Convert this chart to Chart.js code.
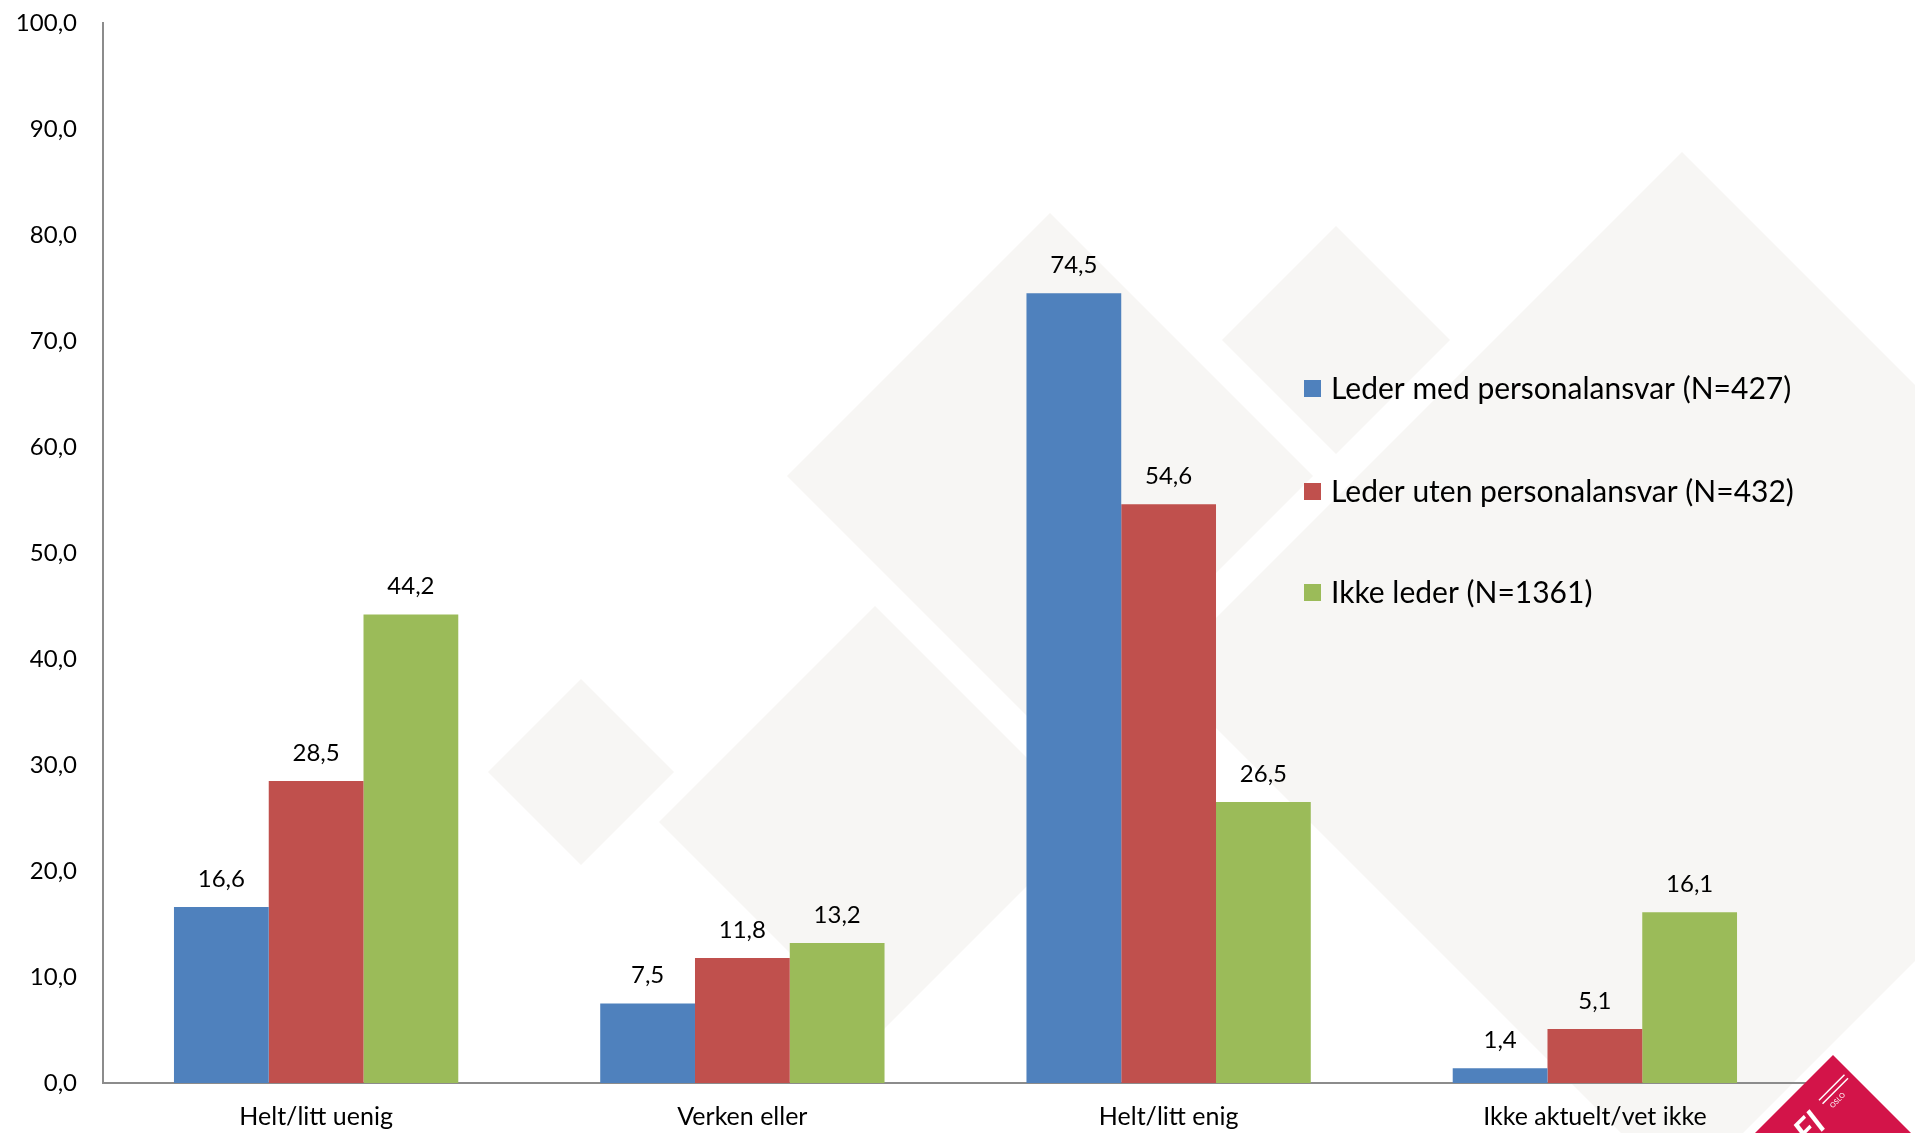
<!DOCTYPE html>
<html>
<head>
<meta charset="utf-8">
<script src="https://cdn.jsdelivr.net/npm/chart.js@4.4.1/dist/chart.umd.min.js"></script>
<style>
    html, body { margin: 0; padding: 0; background: #fff; }
    #wrap { position: relative; width: 1915px; height: 1133px; }
</style>
</head>
<body>
<div id="wrap"><canvas id="chart"></canvas></div>
<script>
const categories = ['Helt/litt uenig', 'Verken eller', 'Helt/litt enig', 'Ikke aktuelt/vet ikke'];
const seriesNames = ['Leder med personalansvar (N=427)', 'Leder uten personalansvar (N=432)', 'Ikke leder (N=1361)'];
const lederMed = [16.6, 7.5, 74.5, 1.4];
const lederUten = [28.5, 11.8, 54.6, 5.1];
const ikkeLeder = [44.2, 13.2, 26.5, 16.1];
const seriesColors = ['#4f81bd', '#c0504d', '#9bbb59'];
const yTicks = [0, 10, 20, 30, 40, 50, 60, 70, 80, 90, 100];

const FONT = 'Lato, "Open Sans", sans-serif';

function fmt(v) {
    return v.toFixed(1).replace('.', ',');
}

// light grey diamonds behind the plot, plus the red logo corner
const backdrop = {
    id: 'backdrop',
    beforeDraw(chart) {
        const ctx = chart.ctx;
        const diamonds = [
            [581, 772, 93],
            [875, 822, 216],
            [1050, 476, 263],
            [1336, 340, 114],
            [1682, 673, 521]
        ];
        ctx.save();
        ctx.fillStyle = '#f7f6f4';
        diamonds.forEach(d => {
            ctx.beginPath();
            ctx.moveTo(d[0], d[1] - d[2]);
            ctx.lineTo(d[0] + d[2], d[1]);
            ctx.lineTo(d[0], d[1] + d[2]);
            ctx.lineTo(d[0] - d[2], d[1]);
            ctx.closePath();
            ctx.fill();
        });
        ctx.restore();
    },
    afterDraw(chart) {
        const ctx = chart.ctx;
        ctx.save();
        ctx.fillStyle = '#d31449';
        ctx.beginPath();
        ctx.moveTo(1833, 1055);
        ctx.lineTo(1953, 1175);
        ctx.lineTo(1833, 1295);
        ctx.lineTo(1713, 1175);
        ctx.closePath();
        ctx.fill();
        ctx.translate(1810, 1128);
        ctx.rotate(-Math.PI / 4);
        ctx.fillStyle = '#fff';
        ctx.font = 'italic bold 34px ' + FONT;
        ctx.textAlign = 'center';
        ctx.textBaseline = 'middle';
        ctx.fillText('FI', 0, 0);
        ctx.fillRect(26, -14, 36, 1.5);
        ctx.fillRect(26, -9, 36, 1.5);
        ctx.font = '7px ' + FONT;
        ctx.textAlign = 'left';
        ctx.fillText('OSLO', 30, 0);
        ctx.restore();
    }
};

const valueLabels = {
    id: 'valueLabels',
    afterDatasetsDraw(chart) {
        const ctx = chart.ctx;
        ctx.save();
        ctx.font = '24px ' + FONT;
        ctx.fillStyle = '#000';
        ctx.textAlign = 'center';
        ctx.textBaseline = 'middle';
        chart.data.datasets.forEach((ds, i) => {
            chart.getDatasetMeta(i).data.forEach((bar, j) => {
                ctx.fillText(fmt(ds.data[j]), bar.x, bar.y - 28);
            });
        });
        ctx.restore();
    }
};

const insideLegend = {
    id: 'insideLegend',
    afterDraw(chart) {
        const ctx = chart.ctx;
        const rows = [388, 491, 592];
        ctx.save();
        ctx.font = '30px ' + FONT;
        ctx.textBaseline = 'middle';
        ctx.textAlign = 'left';
        chart.data.datasets.forEach((ds, i) => {
            ctx.fillStyle = ds.backgroundColor;
            ctx.fillRect(1304, rows[i] - 8, 17, 17);
            ctx.fillStyle = '#000';
            ctx.fillText(ds.label, 1331, rows[i] + 1);
        });
        ctx.restore();
    }
};

const datasets = [lederMed, lederUten, ikkeLeder].map((values, i) => ({
    label: seriesNames[i],
    data: values,
    backgroundColor: seriesColors[i],
    borderWidth: 0,
    categoryPercentage: 0.667,
    barPercentage: 1.0
}));

new Chart(document.getElementById('chart'), {
    type: 'bar',
    data: { labels: categories, datasets: datasets },
    options: {
        responsive: true,
        maintainAspectRatio: false,
        animation: false,
        layout: { padding: { top: 23, right: 107, left: 0, bottom: 0 } },
        plugins: {
            legend: { display: false },
            tooltip: { enabled: false }
        },
        scales: {
            x: {
                grid: { display: false, drawTicks: false },
                border: { display: true, color: '#8c8c8c', width: 2 },
                ticks: { color: '#000', font: { family: FONT, size: 25 }, padding: 19, maxRotation: 0 },
                afterFit(scale) { scale.height = 50; }
            },
            y: {
                min: 0,
                max: 100,
                afterBuildTicks(scale) { scale.ticks = yTicks.map(v => ({ value: v })); },
                grid: { display: false, drawTicks: false },
                border: { display: true, color: '#8c8c8c', width: 2 },
                ticks: { color: '#000', font: { family: FONT, size: 24 }, padding: 26, callback: v => fmt(v) },
                afterFit(scale) {
                    scale.width = 103;
                    scale.paddingTop = 0;
                    scale.paddingBottom = 0;
                }
            }
        }
    },
    plugins: [backdrop, valueLabels, insideLegend]
});
</script>
</body>
</html>
